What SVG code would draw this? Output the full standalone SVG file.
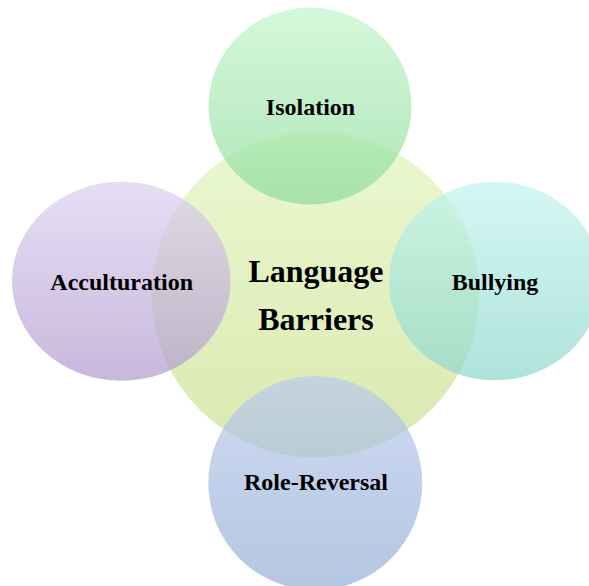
<svg xmlns="http://www.w3.org/2000/svg" width="589" height="586" viewBox="0 0 589 586">
<defs>
<linearGradient id="gC" x1="0" y1="0" x2="0" y2="1"><stop offset="0" stop-color="#eaf8d0"/><stop offset="1" stop-color="#dae9b0"/></linearGradient>
<linearGradient id="gT" x1="0" y1="0" x2="0" y2="1"><stop offset="0" stop-color="#c2f5ca"/><stop offset="1" stop-color="#8ddb9b"/></linearGradient>
<linearGradient id="gL" x1="0" y1="0" x2="0" y2="1"><stop offset="0" stop-color="#dcd0f1"/><stop offset="1" stop-color="#b09acd"/></linearGradient>
<linearGradient id="gR" x1="0" y1="0" x2="0" y2="1"><stop offset="0" stop-color="#c2f4ee"/><stop offset="1" stop-color="#8ed6cd"/></linearGradient>
<linearGradient id="gB" x1="0" y1="0" x2="0" y2="1"><stop offset="0" stop-color="#bacaec"/><stop offset="1" stop-color="#94aed6"/></linearGradient>
</defs>
<style>
.sat{opacity:0.7}
text{font-family:"Liberation Serif","Times New Roman",serif;font-weight:bold;fill:#000;text-anchor:middle}
.s{font-size:24px}
.c{font-size:32px}
</style>
<rect width="589" height="586" fill="#fff"/>
<g id="center"><ellipse cx="315.5" cy="294.5" rx="163.8" ry="163" fill="url(#gC)"/></g>
<g id="isolation"><ellipse class="sat" cx="310" cy="106" rx="101.5" ry="98.5" fill="url(#gT)"/></g>
<g id="acculturation"><ellipse class="sat" cx="121.3" cy="281.2" rx="109.3" ry="99.5" fill="url(#gL)"/></g>
<g id="bullying"><ellipse class="sat" cx="495" cy="281" rx="106" ry="99.3" fill="url(#gR)"/></g>
<g id="role-reversal"><ellipse class="sat" cx="315.3" cy="483" rx="107" ry="107" fill="url(#gB)"/></g>
<g id="labels">
<text class="c" x="316" y="282">Language</text>
<text class="c" x="316" y="330">Barriers</text>
<text class="s" x="310.5" y="115">Isolation</text>
<text class="s" x="121.7" y="289.5">Acculturation</text>
<text class="s" x="495" y="289.5">Bullying</text>
<text class="s" x="316" y="489.5">Role-Reversal</text>
</g>
</svg>
